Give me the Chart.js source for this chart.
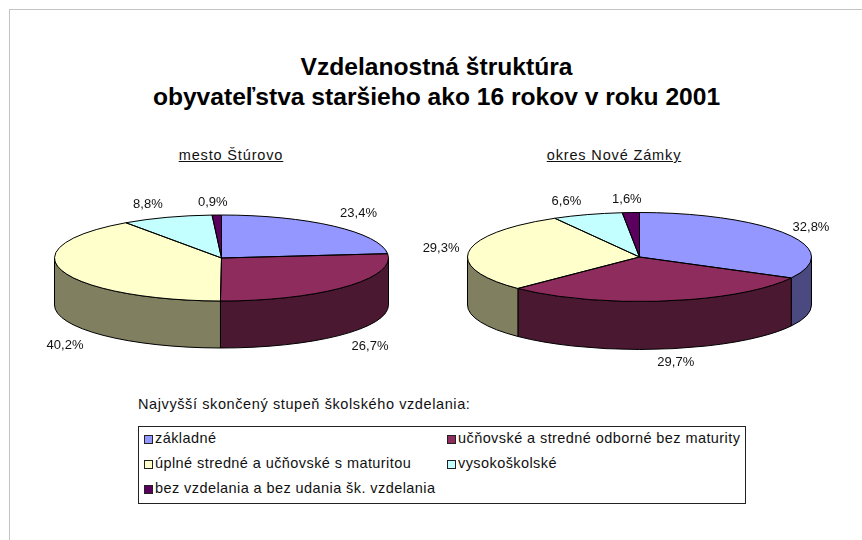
<!DOCTYPE html>
<html>
<head>
<meta charset="utf-8">
<script src="https://cdn.jsdelivr.net/npm/chart.js@4/dist/chart.umd.min.js"></script>
<style>
  body { margin: 0; background: #fff; width: 862px; height: 540px; overflow: hidden; position: relative; font-family: "Liberation Sans", Arial, sans-serif; color: #111; }
  canvas { position: absolute; }
  .frame { position: absolute; left: 9px; top: 9px; right: 0; bottom: 0; border-left: 1px solid #c4c4c4; border-top: 1px solid #c4c4c4; }
  .t { position: absolute; white-space: nowrap; }
  .title { left: 0; width: 873px; text-align: center; font-size: 24.6px; font-weight: bold; color: #000; line-height: 26px; }
  .sub { font-size: 14.5px; letter-spacing: 0.85px; text-decoration: underline; transform: translateX(-50%); }
  .legend { position: absolute; left: 138px; top: 426px; width: 606px; height: 76px; border: 1px solid #222; }
  .swatch { position: absolute; width: 7px; height: 7px; border: 1px solid #222; }
  .item { font-size: 14.5px; letter-spacing: 0.42px; }
</style>
</head>
<body>
<div class="frame"></div>
<div class="t title" style="top:54px">Vzdelanostná štruktúra</div>
<div class="t title" style="top:84px">obyvateľstva staršieho ako 16 rokov v roku 2001</div>
<div class="t sub" style="left:231px;top:147px">mesto Štúrovo</div>
<div class="t sub" style="left:614px;top:147px">okres Nové Zámky</div>
<div class="t item" style="left:138px;top:396px;letter-spacing:0.6px">Najvyšší skončený stupeň školského vzdelania:</div>
<div class="legend" id="legend"></div>
<canvas id="pieMesto" width="441" height="260" style="left:1px;top:128px"></canvas>
<canvas id="pieOkres" width="441" height="260" style="left:419px;top:127px"></canvas>
<script>
// Data
var categories = ["základné", "učňovské a stredné odborné bez maturity", "úplné stredné a učňovské s maturitou", "vysokoškolské", "bez vzdelania a bez udania šk. vzdelania"];
var mestoValues = [23.4, 26.7, 40.2, 8.8, 0.9];
var okresValues = [32.8, 29.7, 29.3, 6.6, 1.6];
// End data

var topColors = ['#9497ff', '#8f2c5e', '#ffffcc', '#c4ffff', '#5c0060'];
var sideColors = ['#4a4a80', '#4a1830', '#808060', '#668080', '#330033'];

// label shift from the rim point at each slice's middle angle
var mestoShift = [[25, -13], [25, 59], [3, 75], [-19, -13], [-4, -13]];
var okresShift = [[24, -7], [11, 61], [-28, -3], [-21, -13], [-4, -13]];

// Squashes the flat pie into an ellipse, adds the wall below it and the labels
var pie3d = {
  id: 'pie3d',
  beforeDatasetsDraw: function (chart, args, opts) {
    var ctx = chart.ctx;
    var arcs = chart.getDatasetMeta(0).data;
    ctx.save();
    ctx.lineWidth = 1;
    ctx.strokeStyle = '#000';
    arcs.forEach(function (arc, i) {
      var lo = Math.max(arc.startAngle, 0);
      var hi = Math.min(arc.endAngle, Math.PI);
      if (lo >= hi) return;
      var ry = arc.outerRadius * opts.ratio;
      ctx.beginPath();
      ctx.ellipse(arc.x, arc.y, arc.outerRadius, ry, 0, lo, hi);
      ctx.ellipse(arc.x, arc.y + opts.depth, arc.outerRadius, ry, 0, hi, lo, true);
      ctx.closePath();
      ctx.fillStyle = sideColors[i];
      ctx.fill();
      ctx.stroke();
    });
    ctx.restore();
    var c = arcs[0];
    ctx.save();
    ctx.translate(c.x, c.y);
    ctx.scale(1, opts.ratio);
    ctx.translate(-c.x, -c.y);
  },
  afterDatasetsDraw: function (chart, args, opts) {
    var ctx = chart.ctx;
    ctx.restore();
    var values = chart.data.datasets[0].data;
    ctx.save();
    ctx.lineWidth = 1;
    ctx.strokeStyle = '#000';
    ctx.font = '13px "Liberation Sans", Arial, sans-serif';
    ctx.textAlign = 'center';
    ctx.textBaseline = 'middle';
    chart.getDatasetMeta(0).data.forEach(function (arc, i) {
      var ry = arc.outerRadius * opts.ratio;
      ctx.beginPath();
      ctx.moveTo(arc.x, arc.y);
      ctx.ellipse(arc.x, arc.y, arc.outerRadius, ry, 0, arc.startAngle, arc.endAngle);
      ctx.closePath();
      ctx.stroke();
      var mid = (arc.startAngle + arc.endAngle) / 2;
      var lx = arc.x + arc.outerRadius * Math.cos(mid) + opts.shift[i][0];
      var ly = arc.y + ry * Math.sin(mid) + opts.shift[i][1];
      ctx.fillStyle = '#111';
      ctx.fillText(values[i].toFixed(1).replace('.', ',') + '%', lx, ly);
    });
    ctx.restore();
  }
};

function makePie(id, values, radius, ratio, depth, shift) {
  return new Chart(document.getElementById(id).getContext('2d'), {
    type: 'pie',
    data: {
      labels: categories,
      datasets: [{ data: values, backgroundColor: topColors, borderWidth: 0, radius: radius, clip: false }]
    },
    options: {
      responsive: false,
      animation: false,
      plugins: {
        legend: { display: false },
        tooltip: { enabled: false },
        pie3d: { ratio: ratio, depth: depth, shift: shift }
      }
    },
    plugins: [pie3d]
  });
}

makePie('pieMesto', mestoValues, 167, 43 / 167, 47, mestoShift);
makePie('pieOkres', okresValues, 172, 44.5 / 172, 48, okresShift);

// Legend box
var legend = document.getElementById('legend');
var legendCells = [[5, 11], [308, 11], [5, 36], [308, 36], [5, 61]];
categories.forEach(function (name, i) {
  var s = document.createElement('div');
  s.className = 'swatch';
  s.style.left = legendCells[i][0] + 'px';
  s.style.top = (legendCells[i][1] - 3) + 'px';
  s.style.background = topColors[i];
  legend.appendChild(s);
  var t = document.createElement('div');
  t.className = 't item';
  t.style.left = (legendCells[i][0] + 11) + 'px';
  t.style.top = (legendCells[i][1] - 8) + 'px';
  t.textContent = name;
  legend.appendChild(t);
});
</script>
</body>
</html>
